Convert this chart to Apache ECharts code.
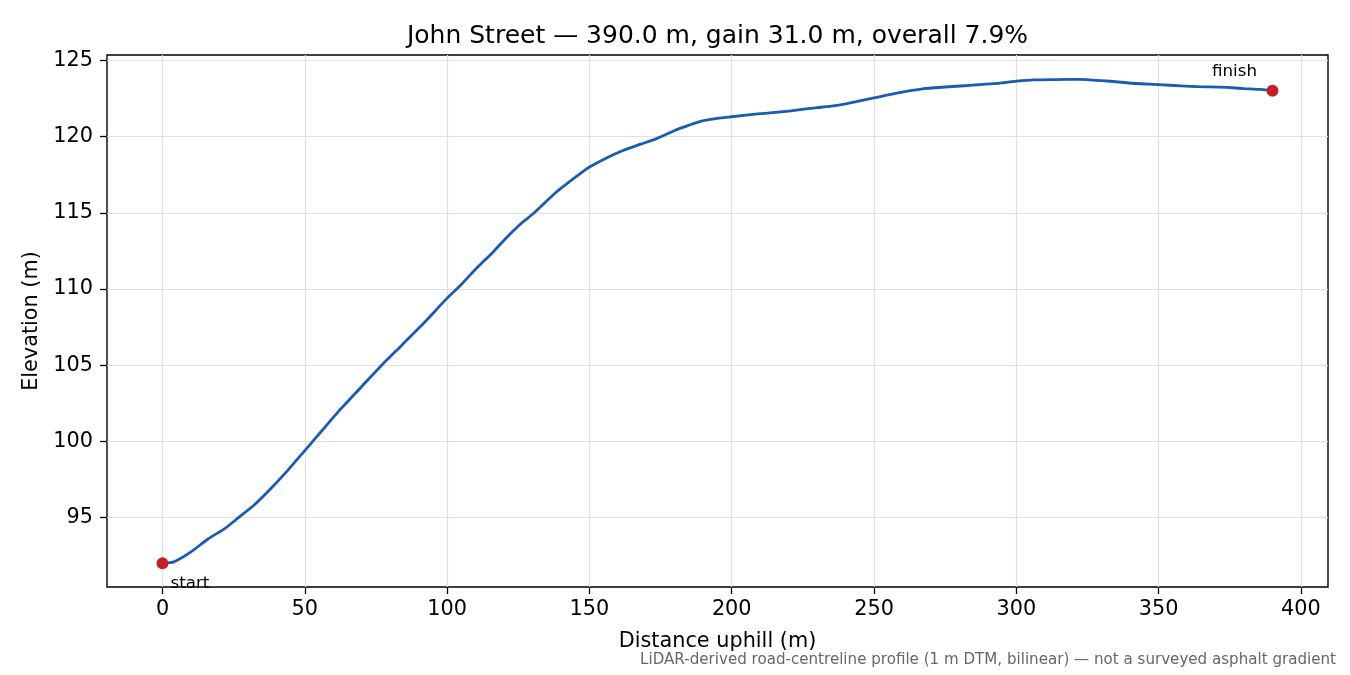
<!DOCTYPE html>
<html>
<head>
    <meta charset="utf-8">
    <title>John Street elevation profile</title>
    <script src="https://cdn.jsdelivr.net/npm/echarts@6.0.0/dist/echarts.min.js"></script>
    <style>
        body { margin: 0; background: #fff; }
        #chart { width: 1350px; height: 675px; }
    </style>
</head>
<body>
    <div id="chart"></div>

    <script>
        // distance along the street (m) and elevation (m)
        var distance = [0, 4, 10, 16, 22, 27, 32, 38, 44, 50, 56, 62, 70, 77, 84, 92, 100,
            105, 110, 116, 121, 126, 130, 134, 138, 142, 147, 150, 156, 162, 168, 174, 180,
            185, 189, 195, 200, 210, 220, 230, 235, 240, 250, 258, 267, 275, 283, 292, 300,
            306, 314, 322, 330, 336, 342, 350, 358, 364, 368, 374, 380, 386, 390];
        var elevation = [92.0, 92.1, 92.75, 93.6, 94.3, 95.05, 95.8, 96.9, 98.1, 99.4, 100.7, 102.0, 103.6, 105.0, 106.3, 107.8, 109.4,
            110.3, 111.3, 112.4, 113.4, 114.3, 114.9, 115.6, 116.3, 116.9, 117.6, 118.0, 118.6, 119.1, 119.5, 119.9, 120.4,
            120.75, 121.0, 121.2, 121.3, 121.5, 121.67, 121.9, 122.0, 122.15, 122.54, 122.85, 123.13, 123.25, 123.35, 123.47, 123.63,
            123.72, 123.74, 123.75, 123.67, 123.58, 123.48, 123.41, 123.32, 123.27, 123.26, 123.22, 123.15, 123.09, 123.0];

        var xTicks = [0, 50, 100, 150, 200, 250, 300, 350, 400];
        var yTicks = [95, 100, 105, 110, 115, 120, 125];

        var endLabels = ['start', 'finish'];

        var chart = echarts.init(document.getElementById('chart'));

        var lineData = distance.map(function (d, i) { return [d, elevation[i]]; });
        var last = distance.length - 1;

        var font = 'DejaVu Sans';
        var axisText = { fontFamily: font, fontSize: 20.8, color: '#000' };

        chart.setOption({
            animation: false,
            textStyle: { fontFamily: font },
            title: [{
                text: 'John Street \u2014 390.0 m, gain 31.0 m, overall 7.9%',
                left: 717.5,
                top: 24,
                padding: 0,
                textAlign: 'center',
                textStyle: { fontFamily: font, fontSize: 25, fontWeight: 'normal', color: '#000', lineHeight: 25 }
            }, {
                text: 'LiDAR-derived road-centreline profile (1 m DTM, bilinear) \u2014 not a surveyed asphalt gradient',
                right: 14,
                top: 653,
                padding: 0,
                textStyle: { fontFamily: font, fontSize: 15.1, fontWeight: 'normal', color: '#666', lineHeight: 15 }
            }],
            grid: {
                left: 107, right: 22, top: 55, bottom: 88,
                show: true, borderColor: '#000', borderWidth: 1.4, backgroundColor: 'transparent'
            },
            xAxis: {
                type: 'value',
                min: -19.5, max: 409.5,
                name: 'Distance uphill (m)',
                nameLocation: 'middle',
                nameGap: 44,
                nameTextStyle: axisText,
                axisLine: { show: false, onZero: false },
                axisTick: { show: true, length: 7, lineStyle: { color: '#000', width: 1.3 }, customValues: xTicks },
                axisLabel: Object.assign({ margin: 12, customValues: xTicks }, axisText),
                splitLine: { show: true, lineStyle: { color: '#e0e0e0', width: 1.2 } }
            },
            yAxis: {
                type: 'value',
                min: 90.45, max: 125.35,
                name: 'Elevation (m)',
                nameLocation: 'middle',
                nameGap: 58,
                nameRotate: 90,
                nameTextStyle: axisText,
                axisLine: { show: false, onZero: false },
                axisTick: { show: true, length: 7, lineStyle: { color: '#000', width: 1.3 }, customValues: yTicks },
                axisLabel: Object.assign({ margin: 14, customValues: yTicks }, axisText),
                splitLine: { show: true, lineStyle: { color: '#e0e0e0', width: 1.2 } }
            },
            series: [{
                type: 'line',
                data: lineData,
                showSymbol: false,
                smooth: 0.2,
                lineStyle: { color: '#1a5cb0', width: 2.8 },
                z: 3
            }, {
                type: 'scatter',
                symbolSize: 12,
                itemStyle: { color: '#c41e2a', opacity: 1 },
                z: 4,
                data: [{
                    value: [distance[0], elevation[0]],
                    label: {
                        show: true, formatter: endLabels[0], position: [14, 26],
                        align: 'left', verticalAlign: 'middle',
                        fontFamily: font, fontSize: 16.7, color: '#000'
                    }
                }, {
                    value: [distance[last], elevation[last]],
                    label: {
                        show: true, formatter: endLabels[1], position: [-32, -13],
                        align: 'center', verticalAlign: 'middle',
                        fontFamily: font, fontSize: 16.7, color: '#000'
                    }
                }]
            }]
        });
    </script>
</body>
</html>
